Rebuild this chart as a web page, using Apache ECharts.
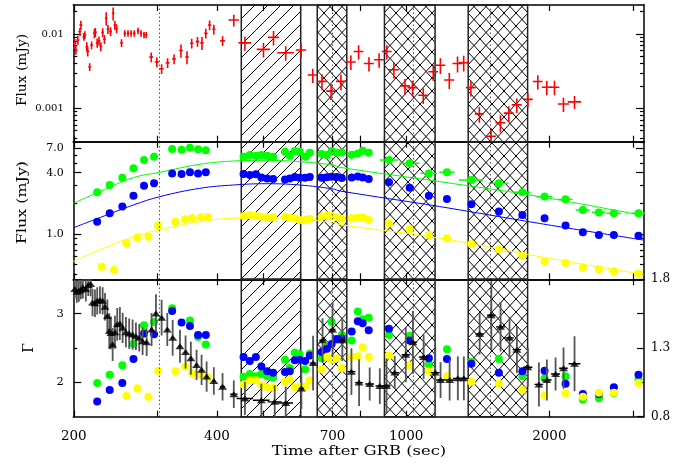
<!DOCTYPE html>
<html>
<head>
<meta charset="utf-8">
<script src="https://cdn.jsdelivr.net/npm/echarts@6/dist/echarts.min.js"></script>
<style>
  html, body { margin: 0; padding: 0; background: #fff; }
  #chart { width: 698px; height: 464px; }
</style>
</head>
<body>
<div id="chart"></div>
<script>
// ---- x axis (time after GRB, sec), log ----
var xTicks = [200, 300, 400, 500, 600, 700, 800, 900, 1000, 2000, 3000];
var xLabels = [200, 400, 700, 1000, 2000];
var hatchDiag = [[450, 600]];
var hatchCross = [[650, 750], [900, 1150], [1350, 1800]];
var dottedT = [303, 700, 1035, 1500];

// ---- top panel: X-ray flux (red crosses) ----
var redT = [201,202,204,206,207,210,211,213,214,216,218,221,222,224,226,228,230,232,234,236,239,242,244,246,252,256,260,264,268,273,277,281,284,
  291,299,306,315,325,336,346,354,364,372,379,386,394,411,
  434,458,501,526,558,601,636,665,695,729,
  765,794,835,877,910,942,994,1031,1086,1140,1180,1232,1282,1321,1368,
  1425,1508,1578,1643,1708,1802,1891,1975,2050,2141,2259];
var redF = [0.0075,0.0061,0.0083,0.0108,0.0132,0.0092,0.0097,0.0068,0.0058,0.0036,
  0.0071,0.0102,0.0106,0.0076,0.0081,0.0068,0.0105,0.0085,0.0163,0.0116,
  0.0108,0.0190,0.0132,0.0119,0.0076,0.0102,0.0102,0.0102,0.0102,0.0110,
  0.0102,0.0097,0.0097,
  0.0049,0.0042,0.0034,0.0041,0.0046,0.0060,0.0049,0.0075,0.0079,0.0076,0.0102,0.0132,0.0116,0.0081,
  0.0154,0.0076,0.0062,0.0090,0.0056,0.0061,0.0028,0.0023,0.0017,0.0023,
  0.0042,0.0058,0.0040,0.0045,0.0058,0.0033,0.0020,0.0019,0.0015,0.0031,0.0038,0.0024,0.0040,0.0041,0.0019,
  0.00084,0.00042,0.00064,0.00086,0.00111,0.00132,0.00229,0.00192,0.00192,0.00114,0.00122];
var redDt = [1.5,1.5,1.5,1.5,1.5,1.5,1.5,1.5,1.5,1.5,1.5,1.5,1.5,1.5,1.5,1.5,1.5,1.5,1.5,1.5,1.5,1.5,1.5,1.5,1.5,1.5,1.5,1.5,1.5,1.5,1.5,1.5,1.5,
  3,3,3,3,3,3,3,3,3,3,3,3,3,5,
  11,14,16,14,22,15,15,15,16,17,
  18,19,20,21,22,23,24,25,26,27,28,30,31,32,33,
  31,36,38,39,41,43,45,47,49,57,73];
var redDf = [0.14,0.14,0.14,0.12,0.14,0.12,0.12,0.14,0.14,0.12,
  0.12,0.14,0.14,0.14,0.14,0.14,0.14,0.14,0.2,0.14,
  0.14,0.2,0.14,0.14,0.12,0.1,0.1,0.1,0.1,0.1,
  0.1,0.1,0.1,
  0.15,0.15,0.15,0.15,0.15,0.2,0.2,0.15,0.15,0.2,0.15,0.15,0.15,0.15,
  0.18,0.22,0.22,0.22,0.22,0.22,0.22,0.24,0.24,0.24,
  0.22,0.22,0.22,0.22,0.22,0.24,0.24,0.24,0.24,0.24,0.24,0.24,0.24,0.24,0.24,
  0.24,0.28,0.26,0.24,0.22,0.22,0.22,0.22,0.22,0.22,0.2];

// ---- middle panel: optical flux ----
var tGB = [224,238,253,267,281,295,322,337,351,365,379,
  455,469,483,496,510,525,556,569,583,597,613,627,
  664,681,697,714,732,
  768,791,810,834,
  920,1017,1116,1218,1371,1566,1755,1954,2163,2352,2542,2733,3079];
var tY = [229,243,258,272,287,301,327,343,355,370,383,
  455,469,483,496,510,525,556,569,583,597,613,627,
  664,681,697,714,732,
  768,791,810,834,
  920,1017,1116,1218,1371,1566,1755,1954,2163,2352,2542,2733,3079];
var greenFlux = [2.57,3.03,3.58,4.42,5.33,5.75,6.84,6.73,7.05,6.79,6.64,
  5.75,5.97,5.88,5.97,5.88,5.75,6.44,5.88,6.54,6.44,5.75,6.30,
  6.11,5.98,6.53,6.29,6.33,
  6.00,6.19,6.58,6.27,
  5.33,4.95,3.94,4.04,3.39,3.15,2.57,2.33,2.19,1.72,1.63,1.60,1.60];
var blueFlux = [1.32,1.60,1.86,2.38,2.98,3.15,3.94,3.89,4.04,3.94,4.04,
  3.89,3.80,3.86,3.60,3.52,3.47,3.44,3.52,3.63,3.58,3.58,3.63,
  3.58,3.61,3.66,3.63,3.55,
  3.60,3.68,3.60,3.47,
  3.22,2.85,2.38,2.21,1.96,1.66,1.54,1.43,1.21,1.04,0.98,0.98,0.96];
var yellowFlux = [0.478,0.443,0.81,0.92,0.94,1.21,1.32,1.40,1.43,1.46,1.47,
  1.50,1.54,1.50,1.48,1.46,1.45,1.48,1.45,1.43,1.37,1.37,1.41,
  1.48,1.52,1.50,1.46,1.41,
  1.43,1.45,1.46,1.37,
  1.27,1.12,0.98,0.91,0.80,0.71,0.61,0.54,0.52,0.47,0.45,0.43,0.41];
var greenDt = [0,0,0,0,0,0,0,0,0,0,0, 0,0,0,0,0,0,0,0,0,0,0,0, 0,0,0,0,0, 0,0,0,0,
  40,50,45,45,80,75,70,75,75,80,85,95,100];
// fitted model curves
var curveT = [199.5,227,267,303.5,368,433,508,597,702,725,1176,1907,3162];
var greenCurve = [2.00,2.61,3.58,4.04,4.84,5.21,5.29,5.14,4.76,4.52,3.27,2.33,1.51];
var blueCurve = [1.15,1.45,1.93,2.33,2.81,3.03,3.12,3.03,2.77,2.65,1.86,1.27,0.87];
var yellowCurve = [0.535,0.70,0.94,1.10,1.32,1.43,1.45,1.40,1.30,1.24,0.91,0.60,0.40];

// ---- bottom panel: photon index ----
var greenGamma = [1.99,2.11,2.25,2.56,2.83,2.88,3.08,null,2.90,2.66,2.55,
  2.08,2.12,2.09,2.12,2.09,2.07,2.33,2.21,2.43,2.41,2.19,2.42,
  2.35,2.52,2.88,2.62,2.69,
  2.61,3.03,2.92,2.94,
  2.69,2.68,2.26,2.48,2.30,2.34,2.09,2.06,2.09,1.75,1.77,1.84,2.04];
var blueGamma = [1.72,1.89,1.99,2.34,2.71,2.70,3.04,2.87,2.82,2.69,2.69,
  2.37,2.31,2.37,2.23,2.16,2.14,2.15,2.16,2.32,2.33,2.31,2.39,
  2.44,2.49,2.56,2.63,2.64,
  2.74,2.89,2.86,2.76,
  2.78,2.61,2.35,2.34,2.27,2.14,2.16,2.17,1.98,1.83,1.83,1.93,2.11];
var yellowGamma = [null,null,1.80,1.91,1.79,2.17,2.16,2.23,2.13,2.11,2.07,
  1.97,2.03,2.03,1.96,1.93,1.92,2.01,2.04,1.93,1.94,1.94,2.03,
  2.19,2.37,2.33,2.35,2.21,
  2.37,2.38,2.51,2.37,
  2.39,2.24,2.16,2.09,2.01,1.98,1.89,1.81,1.84,1.79,1.85,1.85,1.99];
// X-ray index (black triangles, right axis)
var triT = [201,203,205,207,209,212,214.5,217,219,221.6,224,227,230,232.6,235.3,237.5,239.4,241.4,244.1,246.8,
  250,253.4,257.4,261.5,265.9,270.2,274.6,279.1,284.6,291.5,297.7,306,314.5,322.8,334.4,343.6,352.5,362.4,371.3,380.5,
  394,411,434,458,496,529,558,602,637,667,700,734,767,796,838,880,909,946,998,1033,1088,1151,1181,1234,1284,1322,
  1427,1510,1579,1649,1709,1802,1901,1976,2061,2142,2259];
var triR = [1.729,1.709,1.717,1.724,1.741,1.729,1.758,1.766,1.631,1.626,1.643,1.65,1.643,1.601,1.533,1.423,1.41,1.325,1.415,1.472,
  1.479,1.447,1.415,1.405,1.398,1.386,1.374,1.349,1.342,1.435,1.552,1.521,1.435,1.374,1.312,1.271,1.226,1.177,1.141,1.092,
  1.06,1.018,0.964,0.932,0.92,0.908,0.9,1.006,1.19,1.356,1.435,1.356,1.128,1.048,1.038,1.023,1.023,1.121,1.251,1.342,1.234,1.121,1.067,1.067,1.079,1.079,
  1.403,1.538,1.454,1.374,1.288,1.16,1.035,1.067,1.111,1.153,1.185];
var triErr = [0.07,0.08,0.08,0.07,0.08,0.09,0.08,0.09,0.1,0.1,0.1,0.1,0.1,0.1,0.12,0.13,0.12,0.12,0.12,0.12,
  0.12,0.11,0.11,0.11,0.11,0.1,0.1,0.1,0.1,0.12,0.14,0.13,0.12,0.13,0.12,0.12,0.12,0.11,0.11,0.11,
  0.1,0.1,0.1,0.12,0.12,0.12,0.12,0.15,0.2,0.16,0.2,0.15,0.17,0.17,0.12,0.13,0.2,0.12,0.2,0.23,0.16,0.17,0.13,0.15,0.16,0.16,
  0.15,0.25,0.18,0.15,0.17,0.14,0.16,0.15,0.12,0.15,0.2];
var triDt = [1,1,1,1,1,1,1,1,1,1,1,1,1,1,1,1,1,1,1,1,
  1,1,1,1,1,1,1,1,1,2,2,2,2,2,2,2,2,2,2,2,
  3,5,8,18,20,18,20,8,10,10,10,10,15,15,18,18,18,20,20,20,25,25,25,30,30,30,
  30,30,35,35,35,40,40,45,45,45,65];

var FONT = '"DejaVu Serif", serif';
var X_MIN = Math.pow(10, 2.3), X_MAX = Math.pow(10, 3.5);
var G = [
  {top: 5, height: 136.7},
  {top: 141.7, height: 137.6},
  {top: 279.3, height: 137.4}
];

function pattern(cross) {
  var w = cross ? 12 : 13, h = 13;
  var c = document.createElement('canvas');
  c.width = w; c.height = h;
  var ctx = c.getContext('2d');
  ctx.strokeStyle = '#000';
  ctx.lineWidth = 1;
  ctx.beginPath();
  ctx.moveTo(-w, 2 * h); ctx.lineTo(2 * w, -h);
  if (cross) { ctx.moveTo(-w, -h); ctx.lineTo(2 * w, 2 * h); }
  ctx.stroke();
  return {image: c, repeat: 'repeat'};
}
var diagFill = pattern(false), crossFill = pattern(true);

var frameLine = {show: true, onZero: false, lineStyle: {color: '#000', width: 1.5}};

function xAxis(g, pos) {
  var lab = (g === 2 && pos === 'bottom');
  return {
    type: 'log', logBase: 10, gridIndex: g, position: pos, min: X_MIN, max: X_MAX,
    axisLine: frameLine, splitLine: {show: false},
    axisTick: {show: true, inside: true, length: 6, customValues: xTicks, lineStyle: {color: '#000', width: 1.2}},
    axisLabel: {show: lab, customValues: xLabels, margin: 13, color: '#000', fontFamily: FONT, fontSize: 13.5,
      formatter: function (v) { return String(Math.round(v)); }}
  };
}

function yAxis(g, pos, type, min, max, ticks, len, labels, fontSize, fmt, line) {
  return {
    type: type, gridIndex: g, position: pos, min: min, max: max,
    axisLine: line ? frameLine : {show: false}, splitLine: {show: false},
    axisTick: {show: true, inside: true, length: len, customValues: ticks, lineStyle: {color: '#000', width: 1.2}},
    axisLabel: labels ? {show: true, customValues: labels, margin: pos === 'left' ? 9.5 : 7, color: '#000',
      fontFamily: FONT, fontSize: fontSize, formatter: fmt} : {show: false}
  };
}

var topMajor = [0.001, 0.01], topMinor = [0.0004,0.0005,0.0006,0.0007,0.0008,0.0009,0.002,0.003,0.004,0.005,0.006,0.007,0.008,0.009,0.02];
var midMajor = [1, 4, 7], midMinor = [0.4,0.5,0.6,0.7,0.8,0.9,2,3,5,6,8];
var fmtTop = function (v) { return v < 0.005 ? '0.001' : '0.01'; };
var fmt1 = function (v) { return v.toFixed(1); };
var fmt0 = function (v) { return String(Math.round(v)); };

var xAxes = [];
for (var g = 0; g < 3; g++) { xAxes.push(xAxis(g, 'bottom'), xAxis(g, 'top')); }

var yAxes = [
  yAxis(0, 'left', 'log', 0.000355, 0.02456, topMajor, 8, topMajor, 10, fmtTop, true),      // 0
  yAxis(0, 'left', 'log', 0.000355, 0.02456, topMinor, 4, null, 0, null, false),             // 1
  yAxis(0, 'right', 'log', 0.000355, 0.02456, topMajor, 8, null, 0, null, true),             // 2
  yAxis(0, 'right', 'log', 0.000355, 0.02456, topMinor, 4, null, 0, null, false),            // 3
  yAxis(1, 'left', 'log', 0.359, 8.07, midMajor, 8, midMajor, 11, fmt1, true),               // 4
  yAxis(1, 'left', 'log', 0.359, 8.07, midMinor, 4, null, 0, null, false),                   // 5
  yAxis(1, 'right', 'log', 0.359, 8.07, midMajor, 8, null, 0, null, true),                   // 6
  yAxis(1, 'right', 'log', 0.359, 8.07, midMinor, 4, null, 0, null, false),                  // 7
  yAxis(2, 'left', 'value', 1.5, 3.5, [2, 3], 8, [2, 3], 11.5, fmt0, true),                  // 8
  yAxis(2, 'left', 'value', 1.5, 3.5, [2.5], 4, null, 0, null, false),                       // 9
  yAxis(2, 'right', 'value', 0.8, 1.8, [0.8, 1.05, 1.3, 1.55, 1.8], 7, [0.8, 1.3, 1.8], 12, fmt1, true) // 10
];

function hatchSeries(g, yIdx) {
  var areas = [];
  hatchDiag.forEach(function (r) { areas.push([{xAxis: r[0], itemStyle: {color: diagFill}}, {xAxis: r[1]}]); });
  hatchCross.forEach(function (r) { areas.push([{xAxis: r[0], itemStyle: {color: crossFill}}, {xAxis: r[1]}]); });
  return {
    type: 'line', xAxisIndex: 2 * g, yAxisIndex: yIdx, data: [], silent: true, z: 1,
    markArea: {silent: true, itemStyle: {borderColor: '#222', borderWidth: 1.5}, data: areas},
    markLine: {silent: true, symbol: 'none', label: {show: false},
      lineStyle: {color: '#000', width: 1, type: [1, 3]},
      data: dottedT.map(function (t) { return {xAxis: t}; })}
  };
}

// error bars: horizontal (tl..th at v) and vertical (vl..vh at t)
function errRender(color, width, vColor, vWidth) {
  return function (params, api) {
    var t = api.value(0), tl = api.value(1), th = api.value(2), vl = api.value(3), vh = api.value(4), v = api.value(5);
    var kids = [];
    if (vh > vl) {
      var c = api.coord([t, vl]), d = api.coord([t, vh]);
      kids.push({type: 'line', shape: {x1: c[0], y1: c[1], x2: d[0], y2: d[1]},
        style: {stroke: vColor || color, lineWidth: vWidth || width}});
    }
    if (th > tl) {
      var a = api.coord([tl, v]), b = api.coord([th, v]);
      kids.push({type: 'line', shape: {x1: a[0], y1: a[1], x2: b[0], y2: b[1]},
        style: {stroke: color, lineWidth: width}});
    }
    return {type: 'group', children: kids};
  };
}

function errSeries(g, yIdx, data, color, width, z, vColor, vWidth) {
  return {type: 'custom', xAxisIndex: 2 * g, yAxisIndex: yIdx, renderItem: errRender(color, width, vColor, vWidth),
    data: data, clip: true, silent: true, z: z, encode: {x: 0, y: 5}};
}

function pts(ts, vs) {
  var out = [];
  ts.forEach(function (t, i) { if (vs[i] !== null) out.push([t, vs[i]]); });
  return out;
}
function dots(g, yIdx, ts, vs, color) {
  return {type: 'scatter', xAxisIndex: 2 * g, yAxisIndex: yIdx, data: pts(ts, vs), symbol: 'circle',
    symbolSize: 8, itemStyle: {color: color, opacity: 1}, silent: true, z: 4};
}
function curve(ts, vs, color) {
  return {type: 'line', xAxisIndex: 2, yAxisIndex: 4, data: pts(ts, vs), smooth: 0.4, showSymbol: false,
    lineStyle: {color: color, width: 1}, silent: true, z: 3};
}

var redData = redT.map(function (t, i) {
  return [t, t - redDt[i], t + redDt[i], redF[i] * (1 - redDf[i]), redF[i] * (1 + redDf[i]), redF[i]];
});
var greenBars = [];
tGB.forEach(function (t, i) {
  if (greenDt[i] > 0) greenBars.push([t, t - greenDt[i], t + greenDt[i], greenFlux[i], greenFlux[i], greenFlux[i]]);
});
var triBars = triT.map(function (t, i) {
  return [t, t - triDt[i], t + triDt[i], triR[i] - triErr[i], triR[i] + triErr[i], triR[i]];
});

var series = [
  hatchSeries(0, 0), hatchSeries(1, 4), hatchSeries(2, 8),
  errSeries(0, 0, redData, '#ff0000', 1.6, 4),
  curve(curveT, greenCurve, '#00ff00'),
  curve(curveT, blueCurve, '#0000ff'),
  curve(curveT, yellowCurve, '#ffff00'),
  errSeries(1, 4, greenBars, '#00ff00', 1.4, 3),
  dots(1, 4, tGB, greenFlux, '#00ff00'),
  dots(1, 4, tGB, blueFlux, '#0000ff'),
  dots(1, 4, tY, yellowFlux, '#ffff00'),
  dots(2, 8, tGB, greenGamma, '#00ff00'),
  dots(2, 8, tGB, blueGamma, '#0000ff'),
  dots(2, 8, tY, yellowGamma, '#ffff00'),
  errSeries(2, 10, triBars, '#000', 1.4, 5, '#555', 1.8),
  {type: 'scatter', xAxisIndex: 4, yAxisIndex: 10, data: pts(triT, triR), symbol: 'triangle',
    symbolSize: [9, 6], itemStyle: {color: '#000'}, silent: true, z: 6}
];

function title(text, x, y, size, sx, rot) {
  return {type: 'text', x: x, y: y, rotation: rot ? Math.PI / 2 : 0, scaleX: sx, silent: true, z: 10,
    style: {text: text, font: size + 'px ' + FONT, fill: '#000', align: 'center', verticalAlign: 'middle',
      textAlign: 'center', textVerticalAlign: 'middle'}};
}

var chart = echarts.init(document.getElementById('chart'), null, {renderer: 'canvas'});
chart.setOption({
  animation: false,
  backgroundColor: '#fff',
  grid: G.map(function (g) { return {left: 73.3, width: 570.7, top: g.top, height: g.height, show: false}; }),
  xAxis: xAxes,
  yAxis: yAxes,
  series: series,
  graphic: [
    title('Flux (mJy)', 22.5, 70, 12, 1.15, true),
    title('Flux (mJy)', 22.5, 202.5, 12.5, 1.27, true),
    title('Γ', 29, 348, 14, 1, true),
    title('Time after GRB (sec)', 359, 452, 13, 1.26, false)
  ]
});
</script>
</body>
</html>
